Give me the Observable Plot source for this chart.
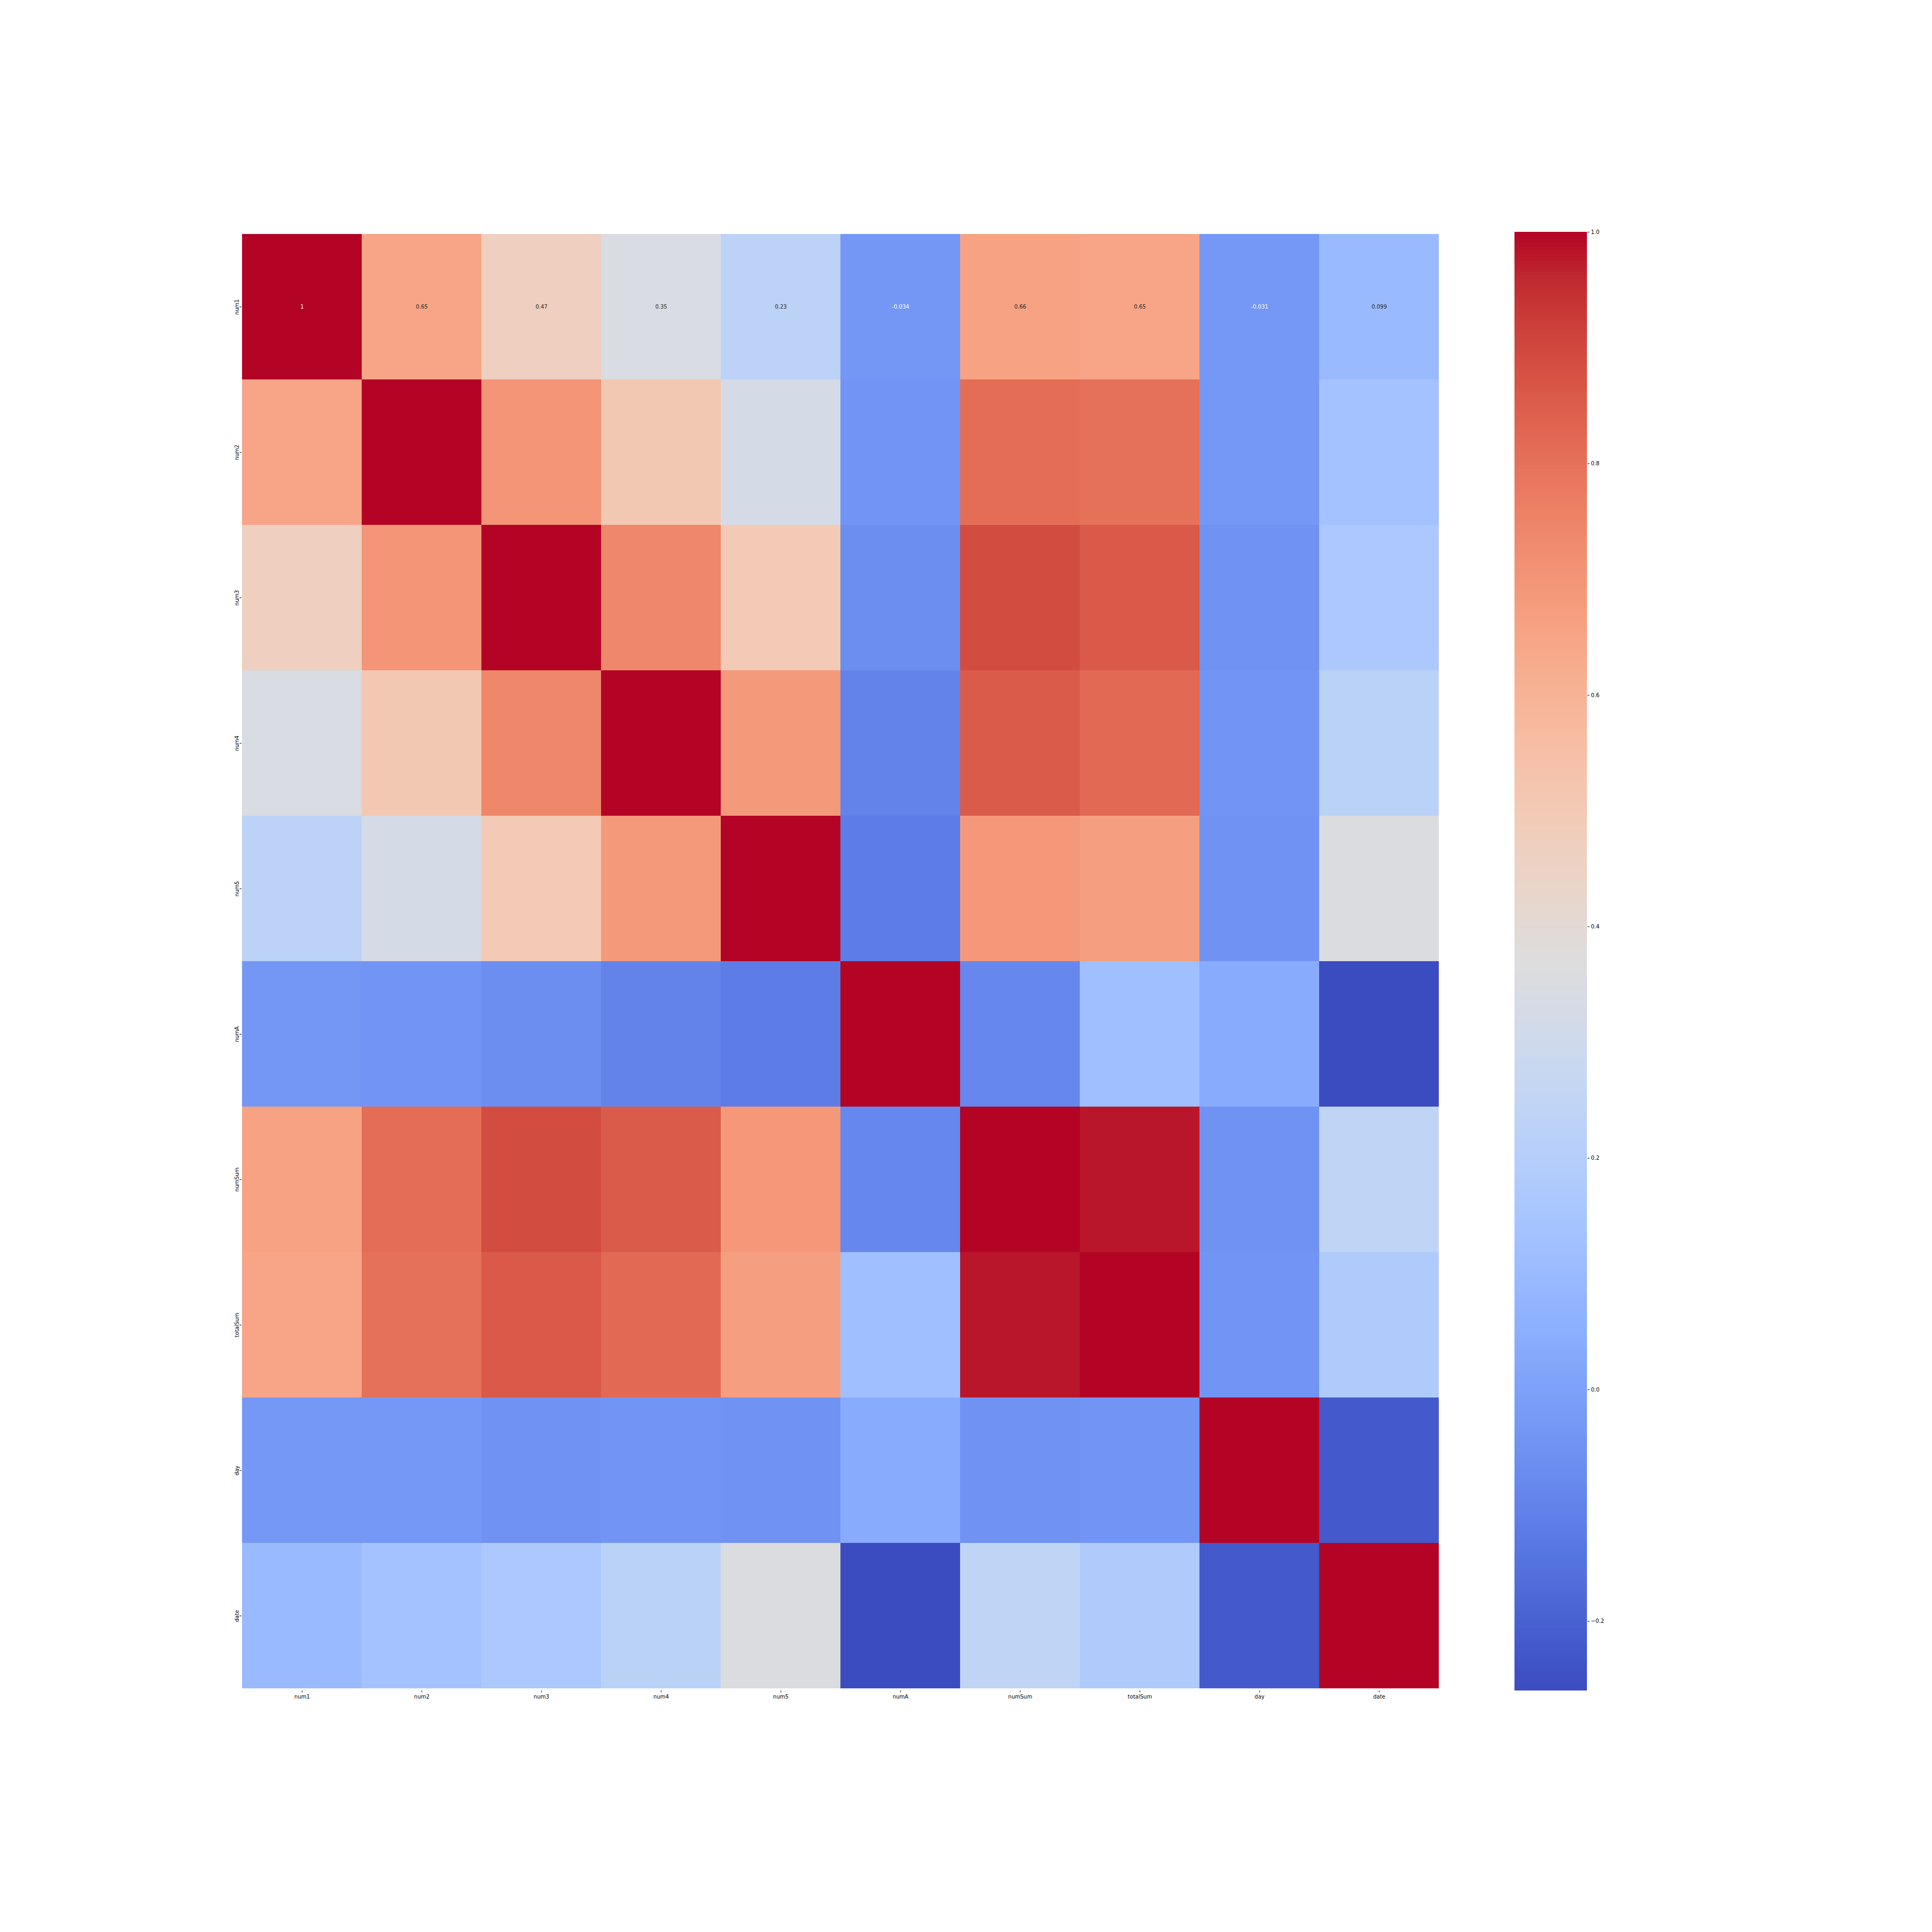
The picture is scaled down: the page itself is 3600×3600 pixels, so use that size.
<!DOCTYPE html>
<html>
<head>
<meta charset="utf-8">
<script src="https://cdn.jsdelivr.net/npm/d3@7"></script>
<script src="https://cdn.jsdelivr.net/npm/@observablehq/plot@0.6"></script>
<style>
  html, body { margin: 0; padding: 0; background: white; }
  #wrap { position: relative; width: 3600px; height: 3600px; background: white; }
  #wrap svg { position: absolute; overflow: visible; }
</style>
</head>
<body>
<div id="wrap"></div>
<script>
// Variables (row/column labels)
const labels = ["num1", "num2", "num3", "num4", "num5", "numA", "numSum", "totalSum", "day", "date"];

// Correlation matrix rows
const num1     = [1, 0.65, 0.47, 0.35, 0.23, -0.034, 0.66, 0.65, -0.031, 0.099];
const num2     = [0.65, 1, 0.70, 0.51, 0.33, -0.04, 0.81, 0.80, -0.03, 0.134];
const num3     = [0.47, 0.70, 1, 0.74, 0.50, -0.064, 0.89, 0.86, -0.05, 0.17];
const num4     = [0.35, 0.51, 0.74, 1, 0.685, -0.10, 0.855, 0.82, -0.04, 0.225];
const num5     = [0.23, 0.33, 0.50, 0.685, 1, -0.12, 0.69, 0.667, -0.05, 0.36];
const numA     = [-0.034, -0.04, -0.064, -0.10, -0.12, 1, -0.085, 0.12, 0.036, -0.26];
const numSum   = [0.66, 0.81, 0.89, 0.855, 0.69, -0.085, 1, 0.98, -0.05, 0.245];
const totalSum = [0.65, 0.80, 0.86, 0.82, 0.667, 0.12, 0.98, 1, -0.04, 0.18];
const day      = [-0.031, -0.03, -0.05, -0.04, -0.05, 0.036, -0.05, -0.04, 1, -0.22];
const date     = [0.099, 0.134, 0.17, 0.225, 0.36, -0.26, 0.245, 0.18, -0.22, 1];

const matrix = [num1, num2, num3, num4, num5, numA, numSum, totalSum, day, date];

// Colorbar tick values
const cbarTicks = [-0.2, 0.0, 0.2, 0.4, 0.6, 0.8, 1.0];

// Only the first row is annotated in the reference
const annotatedRows = ["num1"];

// coolwarm colormap anchor colours (Moreland)
const coolwarmColors = [
  "#3b4cc0","#445acc","#4d68d7","#5775e1","#6282ea","#6c8ef1","#779af7","#82a5fb",
  "#8db0fe","#98b9ff","#a3c2ff","#aec9fd","#b8d0f9","#c2d5f4","#ccd9ee","#d5dbe6",
  "#dddddd","#e5d8d1","#ecd3c5","#f1ccb9","#f5c4ad","#f7bba0","#f7b194","#f7a687",
  "#f49a7b","#f18d6f","#ec7f63","#e57058","#de604d","#d55042","#cb3e38","#c0282f",
  "#b40426"
];
const coolwarm = d3.piecewise(d3.interpolateRgb, coolwarmColors);

// Build the tidy table for the cell mark
const table = [];
labels.forEach((r, i) => labels.forEach((c, j) => table.push({row: r, col: c, value: matrix[i][j]})));

const vmin = d3.min(table, d => d.value);
const vmax = d3.max(table, d => d.value);

const colorScale = {type: "linear", domain: [vmin, vmax], interpolate: coolwarm};

function isDark(v) {
  const c = d3.rgb(coolwarm((v - vmin) / (vmax - vmin)));
  const lin = x => { x /= 255; return x <= 0.03928 ? x / 12.92 : Math.pow((x + 0.055) / 1.055, 2.4); };
  const lum = 0.2126 * lin(c.r) + 0.7152 * lin(c.g) + 0.0722 * lin(c.b);
  return lum <= 0.408;
}
const fmt = v => String(Number(v.toPrecision(2)));
const annot = table.filter(d => annotatedRows.includes(d.row));

const font = {fontFamily: "DejaVu Sans", fontSize: "10px", background: "white", color: "black"};

const main = Plot.plot({
  width: 3600,
  height: 3600,
  marginLeft: 450,
  marginRight: 918,
  marginTop: 432,
  marginBottom: 450,
  style: font,
  x: {domain: labels, padding: 0, label: null, axis: null},
  y: {domain: labels, padding: 0, label: null, axis: null},
  color: colorScale,
  marks: [
    Plot.cell(table, {x: "col", y: "row", fill: "value", inset: 0, shapeRendering: "crispEdges"}),
    Plot.text(annot.filter(d => isDark(d.value)), {x: "col", y: "row", text: d => fmt(d.value), fill: "white", fontSize: 10}),
    Plot.text(annot.filter(d => !isDark(d.value)), {x: "col", y: "row", text: d => fmt(d.value), fill: "#262626", fontSize: 10}),
    Plot.axisX({anchor: "bottom", tickSize: 3.5, tickPadding: 3.5, label: null, fontSize: 10}),
    Plot.axisY({anchor: "left", tickSize: 3.5, tickPadding: 2, tickRotate: -90, label: null, fontSize: 10})
  ]
});
main.style.left = "0px";
main.style.top = "0px";
document.getElementById("wrap").appendChild(main);

// Colorbar
const nSteps = 400;
const stepSize = (vmax - vmin) / nSteps;
const steps = d3.range(nSteps).map(i => vmin + i * stepSize);

const cbar = Plot.plot({
  width: 185,
  height: 2718,
  marginLeft: 0,
  marginRight: 50,
  marginTop: 0,
  marginBottom: 0,
  style: font,
  x: {domain: [0, 1], axis: null},
  y: {domain: [vmin, vmax], label: null, axis: null},
  color: colorScale,
  marks: [
    Plot.rect(steps, {x1: 0, x2: 1, y1: d => d, y2: d => Math.min(d + stepSize * 1.6, vmax), fill: d => d + stepSize / 2, shapeRendering: "crispEdges"}),
    Plot.axisY({anchor: "right", ticks: cbarTicks, tickFormat: d3.format(".1f"), tickSize: 3.5, tickPadding: 3.5, label: null, fontSize: 10})
  ]
});
cbar.style.left = "2822px";
cbar.style.top = "432px";
document.getElementById("wrap").appendChild(cbar);
</script>
</body>
</html>
